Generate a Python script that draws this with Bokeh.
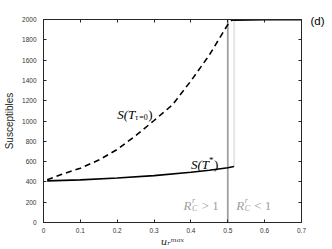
from bokeh.plotting import figure
from bokeh.models import LinearAxis, FixedTicker, NumeralTickFormatter, Label, Range1d
from bokeh.embed import file_html
from bokeh.resources import INLINE

# ---- data ----
u_dash = [0.01, 0.05, 0.10, 0.15, 0.20, 0.25, 0.30, 0.35, 0.40, 0.45, 0.50, 0.51, 0.52]
s_dash = [420, 475, 535, 615, 720, 855, 1005, 1160, 1395, 1650, 1950, 1990, 2000]

u_solid = [0.01, 0.10, 0.20, 0.30, 0.40, 0.45, 0.50, 0.517]
s_solid = [410, 420, 438, 462, 495, 515, 540, 552]

u_top = [0.517, 0.60, 0.70]
s_top = [1995, 2000, 2000]

u_thresh = [0.5, 0.5]
s_thresh = [0, 2000]

u_dot = [0.517, 0.517]
s_dot = [552, 2000]

x_ticks = [0, 0.1, 0.2, 0.3, 0.4, 0.5, 0.6, 0.7]
y_ticks = [0, 200, 400, 600, 800, 1000, 1200, 1400, 1600, 1800, 2000]
panel_tag = "(d)"
panel_tag_at = 1985

AX = "#262626"
GRAY = "#a0a0a0"
SERIF = "Liberation Serif"
SANS = "Liberation Sans"

p = figure(frame_width=258, frame_height=203, output_backend="svg", toolbar_location=None,
           x_range=Range1d(0, 0.7), y_range=Range1d(0, 2000),
           min_border_left=43, min_border_right=30, min_border_top=19, min_border_bottom=26,
           x_axis_type=None, y_axis_type=None)
p.xgrid.visible = False
p.ygrid.visible = False
p.outline_line_color = AX
p.background_fill_color = "white"
p.border_fill_color = "white"

def style_axis(ax, ticks, show_labels, standoff):
    ax.axis_line_color = AX
    ax.axis_line_width = 1
    ax.major_tick_line_color = AX
    ax.major_tick_in = 3
    ax.major_tick_out = 0
    ax.minor_tick_line_color = None
    ax.major_label_text_font = SANS
    ax.major_label_text_color = "#333333"
    ax.major_label_text_font_size = "6.5px"
    ax.major_label_standoff = standoff
    if not show_labels:
        ax.major_label_overrides = {t: "" for t in ticks}
        ax.major_label_text_color = None
        ax.major_label_standoff = 0

xb = LinearAxis(ticker=FixedTicker(ticks=x_ticks), formatter=NumeralTickFormatter(format="0.[0]"))
style_axis(xb, x_ticks, True, 5)
xb.axis_label = "uᵣᵐᵃˣ"
xb.axis_label_text_font = "DejaVu Serif"
xb.axis_label_text_font_style = "italic"
xb.axis_label_text_font_size = "10px"
xb.axis_label_text_color = AX
xb.axis_label_standoff = 0
p.add_layout(xb, "below")

xt = LinearAxis(ticker=FixedTicker(ticks=x_ticks))
style_axis(xt, x_ticks, False, 0)
p.add_layout(xt, "above")

yl = LinearAxis(ticker=FixedTicker(ticks=y_ticks))
style_axis(yl, y_ticks, True, 7)
yl.axis_label = "Susceptibles"
yl.axis_label_text_font = SANS
yl.axis_label_text_font_style = "normal"
yl.axis_label_text_font_size = "10px"
yl.axis_label_text_color = AX
yl.axis_label_standoff = 4
p.add_layout(yl, "left")

yr = LinearAxis(ticker=FixedTicker(ticks=y_ticks))
style_axis(yr, y_ticks, False, 0)
p.add_layout(yr, "right")

# panel tag "(d)" shown as the only label of an extra, line-less right axis
yd = LinearAxis(ticker=FixedTicker(ticks=[panel_tag_at]))
yd.axis_line_color = None
yd.major_tick_line_color = None
yd.minor_tick_line_color = None
yd.major_label_overrides = {panel_tag_at: panel_tag}
yd.major_label_text_font = SANS
yd.major_label_text_font_size = "11.5px"
yd.major_label_text_color = "black"
yd.major_label_standoff = 3
p.add_layout(yd, "right")

# ---- curves ----
p.line(u_thresh, s_thresh, line_color=GRAY, line_width=1.8)
p.line(u_dot, s_dot, line_color=GRAY, line_width=1, line_dash="1 1")
p.line(u_dash, s_dash, line_color="black", line_width=1.6, line_dash="6 4")
p.line(u_solid, s_solid, line_color="black", line_width=1.6)
p.line(u_top, s_top, line_color="black", line_width=1.8)

# ---- math-like labels built from text pieces ----
def mlabel(x, y, parts, color="black"):
    for text, dx, dy, size, style, font in parts:
        p.add_layout(Label(x=x, y=y, x_offset=dx, y_offset=dy, text=text,
                           text_font=font, text_font_size=f"{size}px", text_font_style=style,
                           text_color=color, text_baseline="alphabetic", text_align="left"))

mlabel(0.20, 1065, [("S(T", 0, 0, 13, "italic", SERIF),
                    ("τ", 18, -3, 8, "italic", SERIF),
                    ("=0", 22, -3, 8, "normal", SERIF),
                    (")", 31, 0, 13, "normal", SERIF)])
mlabel(0.40, 570, [("S(T", 0, 0, 13, "italic", SERIF),
                   ("*", 18, 5, 9, "normal", SERIF),
                   (")", 23, 0, 13, "normal", SERIF)])
for xpos, rel in [(0.38, "> 1"), (0.523, "< 1")]:
    mlabel(xpos, 167, [("R", 0, 0, 13, "italic", SERIF),
                       ("r", 8.5, 5, 8, "italic", SERIF),
                       ("C", 8.5, -3, 8, "italic", SERIF),
                       (rel, 18, 0, 13, "normal", SERIF)], color=GRAY)

open("out.html", "w").write(file_html(p, INLINE))
